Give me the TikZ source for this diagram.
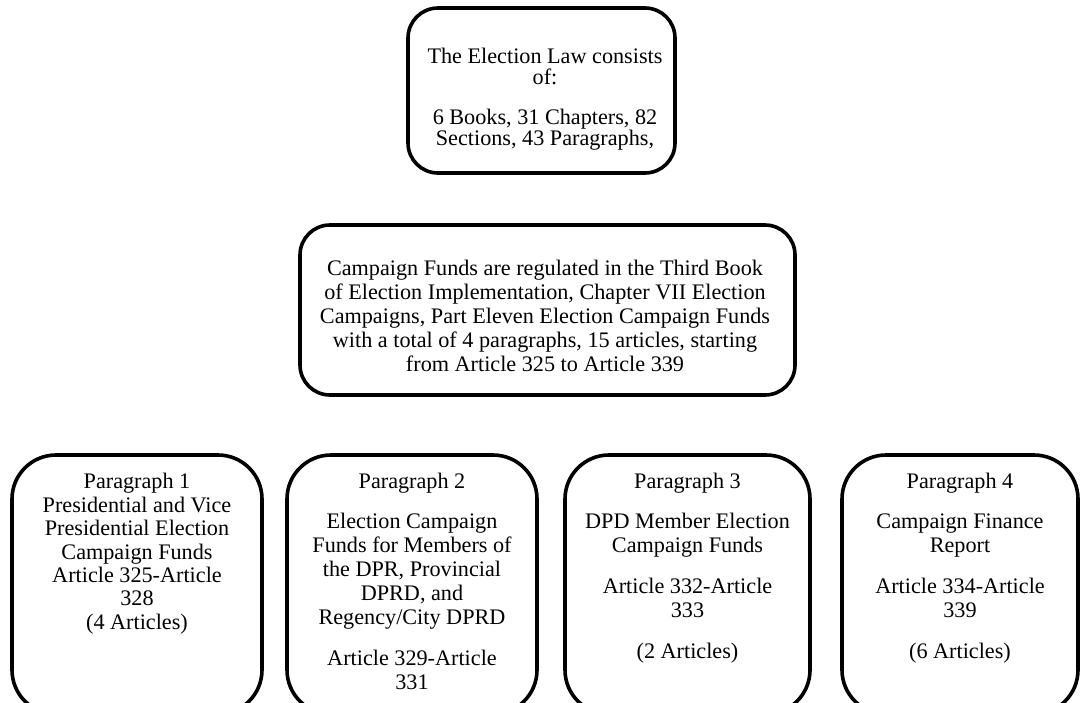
\documentclass[tikz,border=0pt]{standalone}
\usepackage{fontspec}
\setmainfont{Liberation Serif}
\usetikzlibrary{positioning}

\begin{document}
\begin{tikzpicture}[x=0.5pt,y=-0.5pt,
  box/.style={draw, line width=1.8pt, rounded corners=15pt},
  parbox/.style={draw, line width=1.8pt, rounded corners=22pt, minimum height=129.5pt},
  txt/.style={align=center, inner sep=0pt, font=\fontsize{11.1}{12}\selectfont}]
  \useasboundingbox (0,0) rectangle (1081,702);
  \clip (0,0) rectangle (1081,702);

  % top row
  \node[box, minimum width=133.5pt, minimum height=82.5pt] (law) at (541.5,90.5) {};
  \node[txt, font=\fontsize{11.1}{10.5}\selectfont] (lawtxt) at (545,99)
    {The Election Law consists\\ of:\\[9.5pt] 6 Books, 31 Chapters, 82\\ Sections, 43 Paragraphs,};

  % middle row
  \node[box, minimum width=247.5pt, minimum height=85pt] (funds) at (547.5,310) {};
  \node[txt] (fundstxt) at (545,316)
    {Campaign Funds are regulated in the Third Book\\ of Election Implementation, Chapter VII Election\\
     Campaigns, Part Eleven Election Campaign Funds\\ with a total of 4 paragraphs, 15 articles, starting\\
     from Article 325 to Article 339};

  % bottom row
  \node[parbox, minimum width=125pt] (par1) at (137,584.5) {};
  \node[parbox, minimum width=125pt] (par2) at (412,584.5) {};
  \node[parbox, minimum width=122.5pt] (par3) at (687.5,584.5) {};
  \node[parbox, minimum width=118pt] (par4) at (960,584.5) {};

  \node[txt, anchor=north, font=\fontsize{11.1}{11.7}\selectfont] (par1txt) at (137,473)
    {Paragraph 1\\ Presidential and Vice\\ Presidential Election\\ Campaign Funds\\ Article 325-Article\\ 328\\ (4 Articles)};
  \node[txt, anchor=north] (par2txt) at (412,473)
    {Paragraph 2\\[8pt] Election Campaign\\ Funds for Members of\\ the DPR, Provincial\\ DPRD, and\\ Regency/City DPRD\\[8.5pt] Article 329-Article\\ 331};
  \node[txt, anchor=north] (par3txt) at (687.5,473)
    {Paragraph 3\\[8pt] DPD Member Election\\ Campaign Funds\\[8.5pt] Article 332-Article\\ 333\\[8.5pt] (2 Articles)};
  \node[txt, anchor=north] (par4txt) at (960,473)
    {Paragraph 4\\[8pt] Campaign Finance\\ Report\\[8.5pt] Article 334-Article\\ 339\\[8.5pt] (6 Articles)};
\end{tikzpicture}
\end{document}
